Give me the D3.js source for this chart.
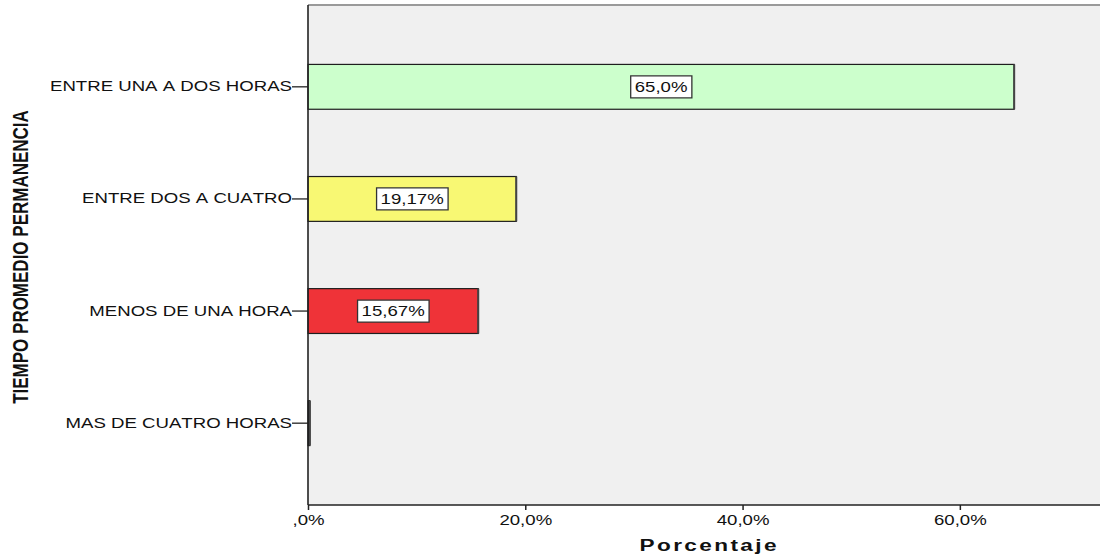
<!DOCTYPE html>
<html>
<head>
<meta charset="utf-8">
<script src="https://cdn.jsdelivr.net/npm/d3@7"></script>
<style>
  html, body { margin: 0; padding: 0; background: #fff; }
  svg { display: block; }
  text { font-family: "Liberation Sans", Arial, sans-serif; fill: #111; font-kerning: none; }
</style>
</head>
<body>
<svg id="chart" width="1100" height="558"></svg>
<script>
// Time spent, share of respondents (%)
const categories = ["ENTRE UNA A DOS HORAS", "ENTRE DOS A CUATRO", "MENOS DE UNA HORA", "MAS DE CUATRO HORAS"];
const values = [65.0, 19.17, 15.67, 0.17];
const valueLabels = ["65,0%", "19,17%", "15,67%", null];
const barColors = ["#ccffcc", "#f8f873", "#ef3338", "#1a1a2a"];
const xTicks = [0, 20, 40, 60];
const xTickLabels = [",0%", "20,0%", "40,0%", "60,0%"];
const xTitle = "Porcentaje";
const yTitle = "TIEMPO PROMEDIO PERMANENCIA";

const W = 1100, H = 558;
const plot = { left: 308, right: 1100, top: 5, bottom: 505 };
const k = 1.33; // horizontal text stretch

const svg = d3.select("#chart");

const x = d3.scaleLinear().domain([0, 72.9]).range([plot.left, plot.right]);
const y = d3.scaleBand().domain(categories).range([plot.top, plot.bottom])
  .paddingInner(0.6).paddingOuter(0.53);

// plot background
svg.append("rect")
  .attr("x", plot.left).attr("y", plot.top)
  .attr("width", plot.right - plot.left).attr("height", plot.bottom - plot.top)
  .attr("fill", "#f0f0f0");
svg.append("line")
  .attr("x1", plot.left).attr("x2", plot.right)
  .attr("y1", plot.top).attr("y2", plot.top)
  .attr("stroke", "#9a9a9a").attr("stroke-width", 2);

// bars
const bars = svg.append("g");
categories.forEach((c, i) => {
  bars.append("rect")
    .attr("x", x(0))
    .attr("y", y(c))
    .attr("width", x(values[i]) - x(0))
    .attr("height", y.bandwidth())
    .attr("fill", barColors[i])
    .attr("stroke", "#1e1e1e")
    .attr("stroke-width", 1.2);
  // darker right edge
  bars.append("line")
    .attr("x1", x(values[i])).attr("x2", x(values[i]))
    .attr("y1", y(c)).attr("y2", y(c) + y.bandwidth())
    .attr("stroke", "#444").attr("stroke-width", 2);
});

// value labels in boxes
categories.forEach((c, i) => {
  if (!valueLabels[i]) return;
  const cx = (x(0) + x(values[i])) / 2;
  const cy = y(c) + y.bandwidth() / 2;
  const g = svg.append("g").attr("transform", `translate(${cx},${cy}) scale(${k},1)`);
  const t = g.append("text")
    .attr("text-anchor", "middle")
    .attr("dy", "0.36em")
    .style("font-size", "14px")
    .text(valueLabels[i]);
  const bb = t.node().getBBox();
  g.insert("rect", "text")
    .attr("x", bb.x - 3).attr("y", -11)
    .attr("width", bb.width + 6).attr("height", 22)
    .attr("fill", "#fff")
    .attr("stroke", "#333")
    .attr("stroke-width", 1.3)
    .attr("vector-effect", "non-scaling-stroke");
});

// y axis
const yAxis = svg.append("g")
  .attr("transform", `translate(${plot.left},0)`)
  .call(d3.axisLeft(y).tickSize(16).tickPadding(0));
yAxis.select(".domain").remove();
yAxis.selectAll(".tick line").attr("stroke", "#111").attr("stroke-width", 1.2);
yAxis.selectAll(".tick text")
  .attr("x", -16 / k)
  .attr("transform", `scale(${k},1)`)
  .style("font-size", "14px")
  .style("font-family", "Liberation Sans, Arial, sans-serif")
  .attr("fill", "#111");
svg.append("line")
  .attr("x1", plot.left).attr("x2", plot.left)
  .attr("y1", plot.top).attr("y2", plot.bottom)
  .attr("stroke", "#222").attr("stroke-width", 1.6);

// x axis
const xAxis = svg.append("g")
  .attr("transform", `translate(0,${plot.bottom})`)
  .call(d3.axisBottom(x).tickValues(xTicks).tickSize(5).tickPadding(5)
    .tickFormat((d, i) => xTickLabels[i]));
xAxis.select(".domain").remove();
xAxis.selectAll(".tick line").attr("stroke", "#222").attr("stroke-width", 1.5);
xAxis.selectAll(".tick text")
  .attr("transform", `scale(${k},1)`)
  .style("font-size", "14px")
  .style("font-family", "Liberation Sans, Arial, sans-serif")
  .attr("fill", "#111");
svg.append("line")
  .attr("x1", plot.left).attr("x2", plot.right)
  .attr("y1", plot.bottom).attr("y2", plot.bottom)
  .attr("stroke", "#222").attr("stroke-width", 1.6);

// axis titles
svg.append("g")
  .attr("transform", `translate(708,551) scale(${k},1)`)
  .append("text")
  .attr("text-anchor", "middle")
  .style("font-size", "17px")
  .style("font-weight", "bold")
  .attr("textLength", 137 / k)
  .attr("lengthAdjust", "spacing")
  .text(xTitle);

svg.append("g")
  .attr("transform", `translate(28,257) scale(${k},1) rotate(-90)`)
  .append("text")
  .attr("text-anchor", "middle")
  .style("font-size", "17px")
  .style("font-weight", "bold")
  .text(yTitle);
</script>
</body>
</html>
